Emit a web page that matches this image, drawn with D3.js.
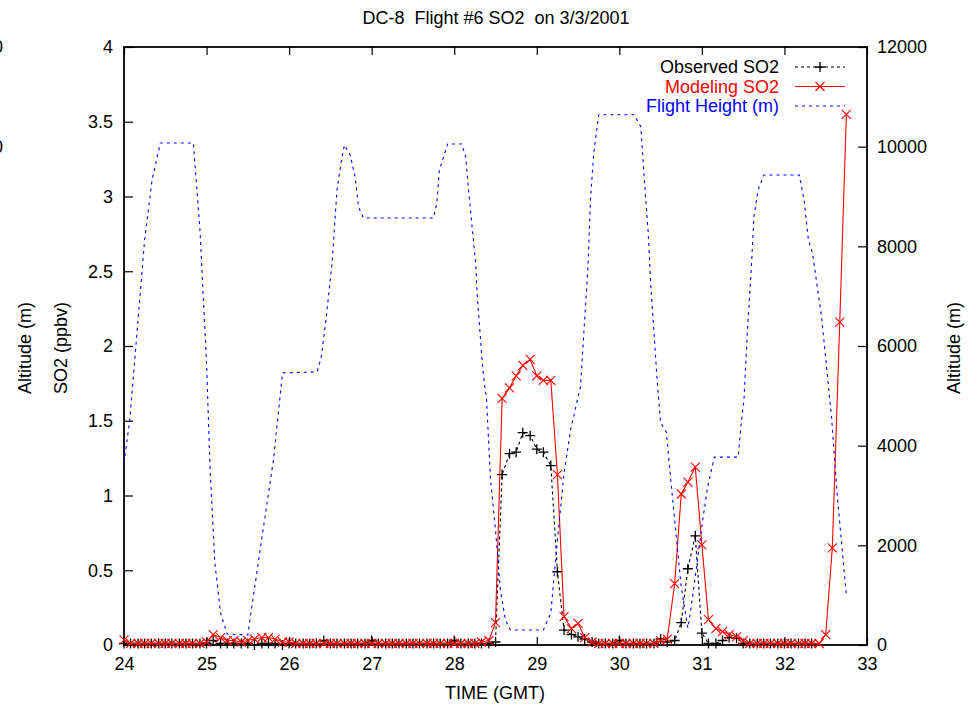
<!DOCTYPE html>
<html>
<head>
<meta charset="utf-8">
<script src="https://cdn.jsdelivr.net/npm/d3@7"></script>
<style>
  body { margin: 0; background: #fff; }
  svg text { font-family: "Liberation Sans", Arial, sans-serif; white-space: pre; }
</style>
</head>
<body>
<svg id="chart" width="977" height="706"></svg>
<script>
// times of the 5-minute samples (hours GMT, past midnight of 3/3)
var times = [
  24.00, 24.08, 24.17, 24.25, 24.33, 24.42, 24.50, 24.58, 24.67, 24.75, 24.83, 24.92,
  25.00, 25.08, 25.17, 25.25, 25.33, 25.42, 25.50, 25.58, 25.67, 25.75, 25.83, 25.92,
  26.00, 26.08, 26.17, 26.25, 26.33, 26.42, 26.50, 26.58, 26.67, 26.75, 26.83, 26.92,
  27.00, 27.08, 27.17, 27.25, 27.33, 27.42, 27.50, 27.58, 27.67, 27.75, 27.83, 27.92,
  28.00, 28.08, 28.17, 28.25, 28.33, 28.42, 28.50, 28.58, 28.67, 28.75, 28.83, 28.92,
  29.00, 29.08, 29.17, 29.25, 29.33, 29.42, 29.50, 29.58, 29.67, 29.75, 29.83, 29.92,
  30.00, 30.08, 30.17, 30.25, 30.33, 30.42, 30.50, 30.58, 30.67, 30.75, 30.83, 30.92,
  31.00, 31.08, 31.17, 31.25, 31.33, 31.42, 31.50, 31.58, 31.67, 31.75, 31.83, 31.92,
  32.00, 32.08, 32.17, 32.25, 32.33, 32.42, 32.50, 32.58, 32.67, 32.75
];

// modeled SO2 (ppbv), one per time
var modeledSO2 = [
  0.035, 0.01, 0.01, 0.01, 0.01, 0.01, 0.01, 0.01, 0.01, 0.01, 0.01, 0.01,
  0.02, 0.07, 0.05, 0.03, 0.03, 0.02, 0.03, 0.04, 0.05, 0.05, 0.04, 0.02,
  0.02, 0.01, 0.01, 0.01, 0.01, 0.01, 0.01, 0.01, 0.01, 0.01, 0.01, 0.01,
  0.01, 0.01, 0.01, 0.01, 0.01, 0.01, 0.01, 0.01, 0.01, 0.01, 0.01, 0.01,
  0.01, 0.01, 0.01, 0.01, 0.02, 0.03, 0.15, 1.65, 1.72, 1.80, 1.87, 1.91,
  1.80, 1.77, 1.77, 1.14, 0.19, 0.11, 0.145, 0.05, 0.02, 0.01, 0.01, 0.01,
  0.01, 0.01, 0.01, 0.01, 0.01, 0.01, 0.03, 0.04, 0.41, 1.01, 1.09, 1.19,
  0.67, 0.17, 0.11, 0.09, 0.07, 0.055, 0.03, 0.01, 0.01, 0.01, 0.01, 0.01,
  0.01, 0.01, 0.01, 0.01, 0.01, 0.01, 0.07, 0.65, 2.16, 3.55
];

// observed SO2 (ppbv), record ends at 32.33
var observedSO2 = [
  0.01, 0.01, 0.01, 0.01, 0.01, 0.01, 0.01, 0.01, 0.01, 0.01, 0.01, 0.01,
  0.01, 0.03, 0.01, 0.01, 0.01, 0.01, 0.01, 0.00, 0.01, 0.01, 0.01, 0.00,
  0.01, 0.01, 0.01, 0.01, 0.01, 0.03, 0.01, 0.01, 0.01, 0.01, 0.01, 0.01,
  0.03, 0.01, 0.01, 0.01, 0.01, 0.01, 0.01, 0.01, 0.01, 0.01, 0.01, 0.01,
  0.03, 0.01, 0.01, 0.01, 0.01, 0.01, 0.02, 1.14, 1.28, 1.29, 1.42, 1.40,
  1.31, 1.29, 1.20, 0.49, 0.10, 0.07, 0.055, 0.04, 0.02, 0.01, 0.01, 0.01,
  0.03, 0.01, 0.01, 0.01, 0.01, 0.01, 0.04, 0.02, 0.03, 0.15, 0.51, 0.73,
  0.08, 0.01, 0.01, 0.03, 0.05, 0.045, 0.01, 0.01, 0.01, 0.01, 0.01, 0.01,
  0.01, 0.01, 0.01, 0.01, 0.01
];

// flight height track (hour, metres)
var heightTime = [
  24.00, 24.07, 24.16, 24.25, 24.34, 24.44, 24.84, 24.92, 25.00, 25.04, 25.10, 25.17, 25.25, 25.50,
  25.53, 25.69, 25.81, 25.92, 26.34, 26.39, 26.45, 26.52, 26.58, 26.64, 26.67, 26.74, 26.80, 26.84,
  26.90, 27.75, 27.79, 27.82, 27.87, 27.92, 28.09, 28.14, 28.17, 28.22, 28.26, 28.28, 28.31, 28.34,
  28.37, 28.39, 28.44, 28.50, 28.56, 28.62, 28.68, 29.08, 29.17, 29.25, 29.33, 29.41, 29.50, 29.53,
  29.57, 29.62, 29.65, 29.69, 29.75, 30.18, 30.26, 30.32, 30.35, 30.38, 30.42, 30.46, 30.50, 30.57,
  30.62, 30.67, 30.75, 30.83, 30.87, 30.93, 31.01, 31.07, 31.15, 31.44, 31.48, 31.51, 31.55, 31.60,
  31.63, 31.68, 31.75, 32.18, 32.24, 32.29, 32.34, 32.45, 32.57, 32.64, 32.70, 32.75
];
var heightM = [
  3650, 4515, 6320, 8130, 9330, 10075, 10075, 8330, 5660, 3650, 1650, 640, 220, 200,
  560, 2370, 3710, 5460, 5480, 5780, 6580, 7660, 9130, 9790, 10035, 9830, 9390, 8790,
  8570, 8570, 8870, 9530, 9790, 10055, 10055, 9790, 9190, 8330, 7660, 6980, 6320, 5660,
  5180, 4980, 3310, 2310, 1100, 500, 300, 300, 640, 2110, 3450, 4320, 4980, 5180,
  6260, 7590, 8930, 9870, 10640, 10640, 10400, 8930, 8270, 7260, 6260, 5260, 4460, 4270,
  3370, 2510, 1160, 340, 760, 1500, 2510, 3170, 3770, 3770, 4510, 4920, 6260, 7590,
  8590, 9130, 9430, 9430, 8900, 8130, 7860, 6580, 4580, 3000, 1900, 1000
];

var xTicks = [24, 25, 26, 27, 28, 29, 30, 31, 32, 33];
var yTicks = [0, 0.5, 1, 1.5, 2, 2.5, 3, 3.5, 4];
var y2Ticks = [0, 2000, 4000, 6000, 8000, 10000, 12000];

var plotL = 124, plotR = 867, plotT = 47, plotB = 645;
var svg = d3.select('#chart');

var x = d3.scaleLinear().domain([24, 33]).range([plotL, plotR]);
var y = d3.scaleLinear().domain([0, 4]).range([plotB, plotT]);
var y2 = d3.scaleLinear().domain([0, 12000]).range([plotB, plotT]);

var obs = observedSO2.map(function(v, i) { return {t: times[i], v: v}; });
var mod = modeledSO2.map(function(v, i) { return {t: times[i], v: v}; });
var hgt = heightM.map(function(v, i) { return {t: heightTime[i], v: v}; });

// axes: ticks point inward, like gnuplot
svg.append('g').attr('transform', 'translate(0,' + plotB + ')')
  .call(d3.axisBottom(x).tickValues(xTicks).tickSize(-8).tickPadding(12).tickFormat(d3.format('d')));
svg.append('g').attr('transform', 'translate(0,' + plotT + ')')
  .call(d3.axisTop(x).tickValues(xTicks).tickSize(-8).tickFormat(''));
svg.append('g').attr('transform', 'translate(' + plotL + ',0)')
  .call(d3.axisLeft(y).tickValues(yTicks).tickSize(-9).tickPadding(11).tickFormat(d3.format('')));
svg.append('g').attr('transform', 'translate(' + plotR + ',0)')
  .call(d3.axisRight(y2).tickValues(y2Ticks).tickSize(-9).tickPadding(10).tickFormat(d3.format('d')));

svg.selectAll('.domain').remove();
svg.selectAll('.tick line').attr('stroke', '#000').attr('stroke-width', 1.2);
svg.selectAll('.tick text').attr('font-size', 18).attr('fill', '#000')
  .attr('font-family', '"Liberation Sans", Arial, sans-serif');

svg.append('rect').attr('x', plotL).attr('y', plotT)
  .attr('width', plotR - plotL).attr('height', plotB - plotT)
  .attr('fill', 'none').attr('stroke', '#000').attr('stroke-width', 1.8);

// leftovers of a clipped altitude axis on the far left
svg.selectAll('.ghost').data([12000, 10000]).enter().append('text')
  .attr('x', 3).attr('y', function(d) { return y2(d) + 6; })
  .attr('text-anchor', 'end').attr('font-size', 18).text(function(d) { return d; });

var lineFn = d3.line().x(function(d) { return x(d.t); }).y(function(d) { return y(d.v); });
var line2Fn = d3.line().x(function(d) { return x(d.t); }).y(function(d) { return y2(d.v); });

function plus(sel, s) {
  sel.append('path').attr('d', 'M' + (-s) + ',0H' + s + 'M0,' + (-s) + 'V' + s)
    .attr('stroke', '#000').attr('stroke-width', 1.3).attr('fill', 'none');
}
function cross(sel, s) {
  sel.append('path').attr('d', 'M' + (-s) + ',' + (-s) + 'L' + s + ',' + s + 'M' + (-s) + ',' + s + 'L' + s + ',' + (-s))
    .attr('stroke', '#f00').attr('stroke-width', 1.1).attr('fill', 'none');
}

// observed
svg.append('path').datum(obs).attr('d', lineFn)
  .attr('fill', 'none').attr('stroke', '#000').attr('stroke-width', 1.1).attr('stroke-dasharray', '3,3');
svg.selectAll('.obs').data(obs).enter().append('g')
  .attr('transform', function(d) { return 'translate(' + x(d.t) + ',' + y(d.v) + ')'; })
  .each(function() { plus(d3.select(this), 5); });

// modeled
svg.append('path').datum(mod).attr('d', lineFn)
  .attr('fill', 'none').attr('stroke', '#f00').attr('stroke-width', 1.1);
svg.selectAll('.mod').data(mod).enter().append('g')
  .attr('transform', function(d) { return 'translate(' + x(d.t) + ',' + y(d.v) + ')'; })
  .each(function() { cross(d3.select(this), 4.5); });

// flight height
svg.append('path').datum(hgt).attr('d', line2Fn)
  .attr('fill', 'none').attr('stroke', '#00f').attr('stroke-width', 1.1).attr('stroke-dasharray', '3,4');

// legend
var legend = [
  {name: 'Observed SO2', color: '#000', dash: '3,3', mark: 'plus'},
  {name: 'Modeling SO2', color: '#f00', dash: null, mark: 'cross'},
  {name: 'Flight Height (m)', color: '#00f', dash: '3,4', mark: null}
];
legend.forEach(function(d, i) {
  var yy = 67 + i * 19.5;
  svg.append('text').attr('x', 779).attr('y', yy + 6).attr('text-anchor', 'end')
    .attr('font-size', 18).attr('fill', d.color).text(d.name);
  svg.append('line').attr('x1', 795).attr('x2', 845).attr('y1', yy).attr('y2', yy)
    .attr('stroke', d.color).attr('stroke-width', 1.1).attr('stroke-dasharray', d.dash);
  var g = svg.append('g').attr('transform', 'translate(820,' + yy + ')');
  if (d.mark === 'plus') plus(g, 5);
  if (d.mark === 'cross') cross(g, 4.5);
});

// titles
svg.append('text').attr('x', 496).attr('y', 24).attr('text-anchor', 'middle')
  .attr('font-size', 18).text('DC-8  Flight #6 SO2  on 3/3/2001');
svg.append('text').attr('x', 495).attr('y', 699).attr('text-anchor', 'middle')
  .attr('font-size', 18).text('TIME (GMT)');
svg.append('text').attr('transform', 'translate(67,348) rotate(-90)').attr('text-anchor', 'middle')
  .attr('font-size', 18).text('SO2 (ppbv)');
svg.append('text').attr('transform', 'translate(31,348) rotate(-90)').attr('text-anchor', 'middle')
  .attr('font-size', 18).text('Altitude (m)');
svg.append('text').attr('transform', 'translate(960,348) rotate(-90)').attr('text-anchor', 'middle')
  .attr('font-size', 18).text('Altitude (m)');
</script>
</body>
</html>
